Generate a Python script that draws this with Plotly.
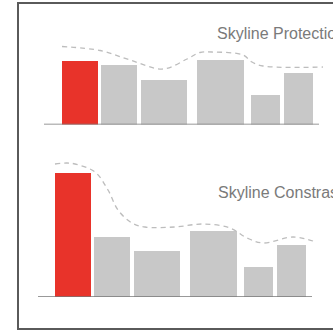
import plotly.graph_objects as go

# Bar data (same categories in both panels)
bar_widths = [36, 36, 46.5, 47, 28.5, 28.5]
protection_values = [64, 60, 45, 65, 30, 52]
contrast_values = [124, 60, 46, 66, 30, 52]

# Dashed "skyline" envelopes
protection_sky_x = [0, 38, 68, 101, 125, 138, 150, 181, 190, 201, 261]
protection_sky_y = [78, 74, 64.5, 55.5, 65.5, 72, 72.5, 69.5, 62.5, 58.5, 57.5]
contrast_sky_x = [0, 12, 20, 40, 53, 63, 77, 90, 120, 148, 175, 192, 208, 238, 258]
contrast_sky_y = [133, 134, 133, 125, 107, 87, 74, 70, 70, 73, 69, 59, 54, 60, 56]

titles = ["Skyline Protection", "Skyline Constrast"]

COLORS = {
    "red": "#e8332a",
    "gray": "#c8c8c8",
    "dash": "#bdbdbd",
    "axis": "#777777",
    "text": "#7a7a7a",
    "frame": "#5a5a5a",
}

GAPS = [3, 3.5, 10, 7, 4.5]
W, H = 333, 331


def bar_centers(widths):
    centers = []
    pos = 0
    for i, w in enumerate(widths):
        centers.append(pos + w / 2)
        pos += w + (GAPS[i] if i < len(GAPS) else 0)
    return centers


def py(pix):
    # pixel row -> paper fraction
    return 1 - pix / H


fig = go.Figure()

panels = [
    (protection_values, protection_sky_x, protection_sky_y, "x", "y"),
    (contrast_values, contrast_sky_x, contrast_sky_y, "x2", "y2"),
]
for vals, sx, sy, xa, ya in panels:
    colors = [COLORS["red"]] + [COLORS["gray"]] * (len(vals) - 1)
    fig.add_trace(
        go.Bar(
            x=bar_centers(bar_widths),
            y=vals,
            width=bar_widths,
            marker=dict(color=colors, line=dict(width=0)),
            xaxis=xa,
            yaxis=ya,
            hoverinfo="skip",
        )
    )
    fig.add_trace(
        go.Scatter(
            x=sx,
            y=sy,
            mode="lines",
            line=dict(color=COLORS["dash"], width=1.3, dash="5px,4px", shape="spline", smoothing=1.0),
            xaxis=xa,
            yaxis=ya,
            hoverinfo="skip",
        )
    )

hidden = dict(showgrid=False, zeroline=False, showticklabels=False, ticks="", showline=False)
title_font = dict(family="Liberation Sans, Arial", size=16, color=COLORS["text"])

fig.update_layout(
    width=W,
    height=H,
    margin=dict(l=0, r=0, t=0, b=0),
    paper_bgcolor="white",
    plot_bgcolor="rgba(0,0,0,0)",
    showlegend=False,
    bargap=0,
    xaxis=dict(domain=[0, 1], range=[-62, 271], anchor="y", **hidden),
    yaxis=dict(domain=[py(124.5), py(24.5)], range=[0, 100], anchor="x", **hidden),
    xaxis2=dict(domain=[0, 1], range=[-55, 278], anchor="y2", **hidden),
    yaxis2=dict(domain=[py(297), py(157)], range=[0, 140], anchor="x2", **hidden),
    shapes=[
        dict(type="line", xref="x", yref="y", x0=-18, x1=257, y0=0, y1=0,
             line=dict(color=COLORS["axis"], width=1.5)),
        dict(type="line", xref="x2", yref="y2", x0=-17, x1=257, y0=0, y1=0,
             line=dict(color=COLORS["axis"], width=1.5)),
        dict(type="rect", xref="paper", yref="paper", x0=18 / W, x1=345 / W,
             y0=py(329), y1=py(3), line=dict(color=COLORS["frame"], width=2)),
    ],
    annotations=[
        dict(text=titles[0], xref="paper", yref="paper", x=215 / W, y=py(33.5),
             xanchor="left", yanchor="middle", showarrow=False, font=title_font),
        dict(text=titles[1], xref="paper", yref="paper", x=215.5 / W, y=py(192.5),
             xanchor="left", yanchor="middle", showarrow=False, font=title_font),
    ],
)

# drop the page's default body margin so the figure sits at the window's corner
fig.write_html(
    "out.html",
    config={"displayModeBar": False},
    post_script="document.body.style.margin = '0';",
)
